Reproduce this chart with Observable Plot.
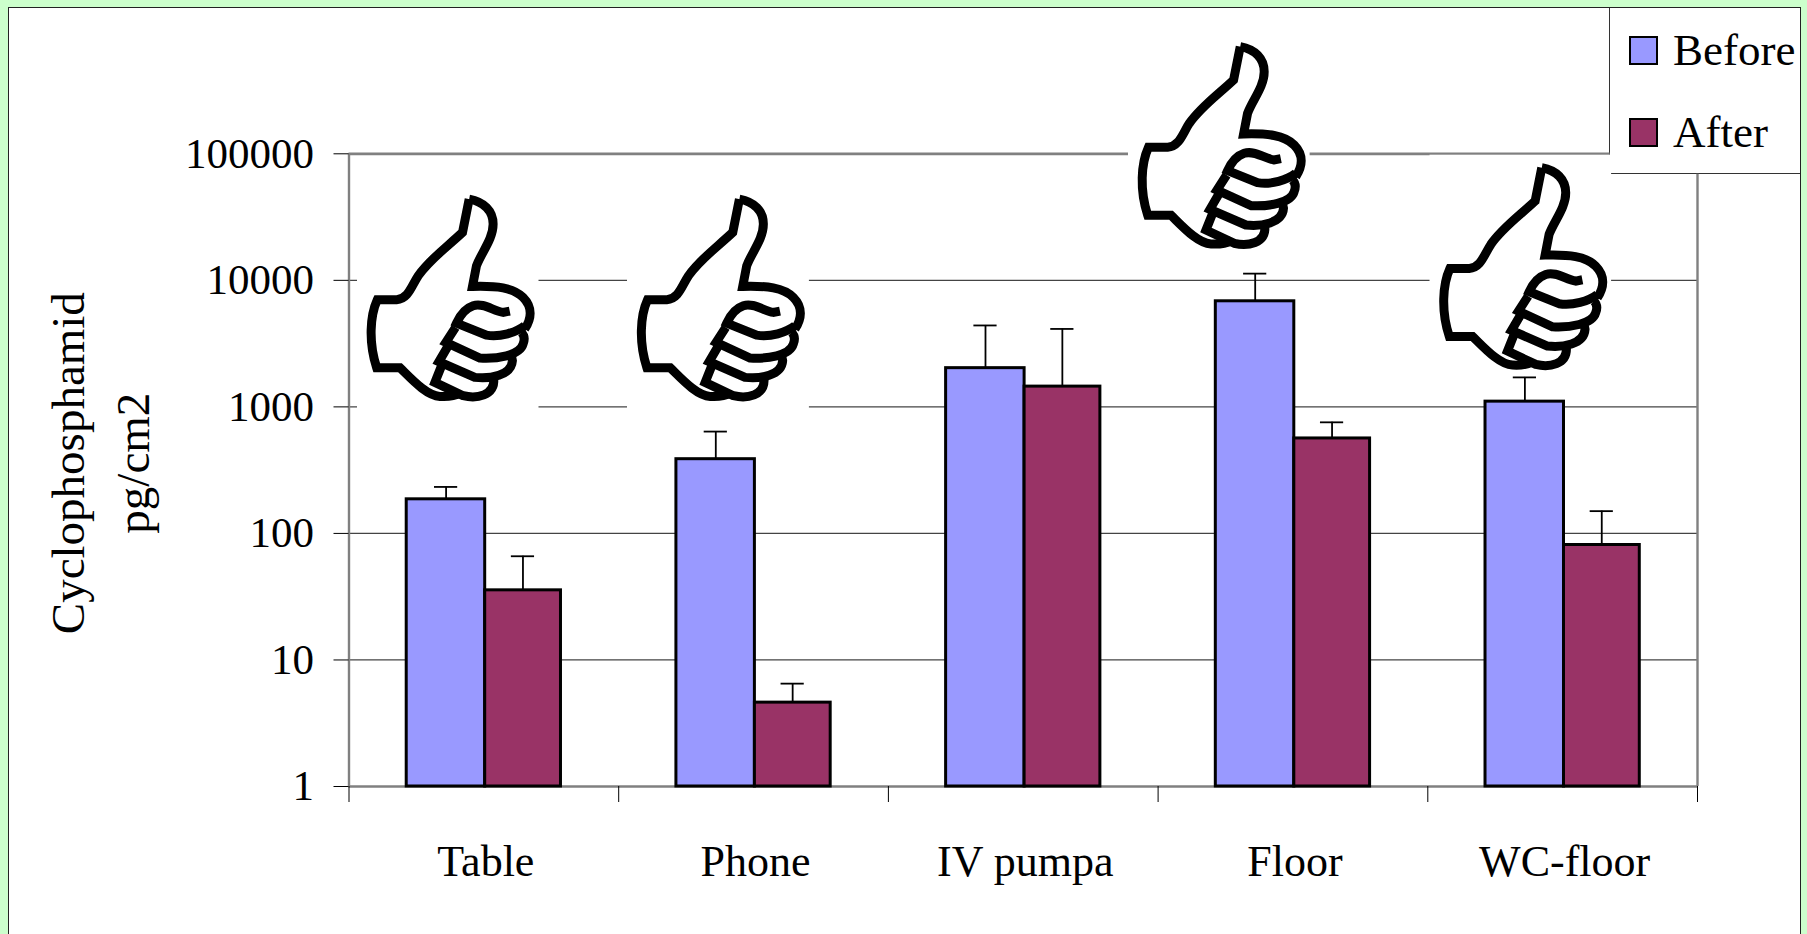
<!DOCTYPE html>
<html>
<head>
<meta charset="utf-8">
<script src="https://cdn.jsdelivr.net/npm/d3@7"></script>
<script src="https://cdn.jsdelivr.net/npm/@observablehq/plot@0.6"></script>
<style>
html,body{margin:0;padding:0;width:1807px;height:934px;overflow:hidden;background:#CCFFCC;font-family:"Liberation Serif",serif;}
#frame{position:absolute;left:8px;top:7px;width:1791px;height:940px;background:#fff;border:1.5px solid #222;}
#legend{position:absolute;left:1609px;top:8px;width:191px;height:166px;color:#000;font-size:45px;}
#legend .edgeL{position:absolute;left:0;top:0;width:1.2px;height:150px;background:#333;}
#legend .edgeB{position:absolute;left:0;top:165px;width:191px;height:1.2px;background:#333;}
#legend .sw{position:absolute;left:20px;width:25px;height:25px;border:2.5px solid #000;}
#legend .lb{position:absolute;left:64px;line-height:50px;white-space:nowrap;}
#chart{position:absolute;left:0;top:0;}
#chart svg{background:transparent;}
</style>
</head>
<body>
<div id="frame"></div>
<div id="legend">
  <div class="edgeL"></div><div class="edgeB"></div>
  <div class="sw" style="top:28px;background:#9999FF"></div><div class="lb" style="top:17px">Before</div>
  <div class="sw" style="top:110px;background:#993366"></div><div class="lb" style="top:99px">After</div>
</div>
<div id="chart"></div>
<script>
const categories = ["Table", "Phone", "IV pumpa", "Floor", "WC-floor"];
const before     = [186, 386, 2023, 6830, 1100];
const after      = [35.5, 4.6, 1446, 563, 81];
const beforeTop  = [233, 638, 4400, 11300, 1710];
const afterTop   = [66, 6.5, 4130, 755, 150];
const yTicks     = [1, 10, 100, 1000, 10000, 100000];
const innerGrid  = [10, 100, 1000, 10000];
const xEdges     = [0, 1, 2, 3, 4, 5];

// thumbs-up pictures: anchored to the chart's scales
const thumbX = [0.366, 1.368, 3.225, 4.343];
const thumbY = [6900, 6900, 110500, 12200];

const capW = 0.043;
const rows = categories.flatMap((c, i) => [
  {i, x1: i + 0.214, x2: i + 0.505, v: before[i], top: beforeTop[i], fill: "#9999FF"},
  {i, x1: i + 0.505, x2: i + 0.786, v: after[i], top: afterTop[i], fill: "#993366"}
]);

const thumbSvg = `<svg xmlns="http://www.w3.org/2000/svg" viewBox="50 50 547 690" preserveAspectRatio="none">
<rect x="50" y="50" width="547" height="690" fill="#fff"/>
<g fill="none" stroke="#000" stroke-width="27" stroke-linejoin="miter">
<path d="M388 90C432 98 460 125 460 165C460 210 425 250 410 290L398 352C470 350 520 355 550 385C580 415 575 450 555 480"/>
<path d="M388 90L368 190C320 235 270 270 235 320C215 350 205 390 170 392L112 392C90 440 85 520 110 596L180 596C215 630 260 680 300 682C330 684 350 678 362 672"/>
<path d="M510 426L490 430C460 425 430 400 400 410C375 418 360 440 350 462L440 498C480 505 530 490 555 470"/>
<path d="M347 475L318 520L420 567C470 570 540 560 550 525C558 505 550 495 545 490"/>
<path d="M325 530L297 578L405 625C450 630 515 620 518 575L515 560"/>
<path d="M305 590L285 640L370 680C410 690 465 680 462 630"/>
</g></svg>`;
const thumbSrc = "data:image/svg+xml," + encodeURIComponent(thumbSvg);

const fontFamily = '"Liberation Serif", serif';
const chart = Plot.plot({
  width: 1807, height: 934,
  marginLeft: 348.5, marginRight: 110, marginTop: 153.3, marginBottom: 148,
  style: {background: "transparent", fontFamily, color: "#000"},
  x: {domain: [0, 5], axis: null},
  y: {type: "log", domain: [1, 100000], axis: null},
  marks: [
    Plot.ruleY(innerGrid, {stroke: "#444", strokeWidth: 1.2}),
    Plot.ruleY([100000], {x1: 0, x2: 4.676, stroke: "#808080", strokeWidth: 2.8}),
    Plot.ruleX([5], {y1: 1, y2: 68800, stroke: "#808080", strokeWidth: 2.4}),
    Plot.ruleX([0], {stroke: "#808080", strokeWidth: 2.4}),
    Plot.ruleY([1], {stroke: "#808080", strokeWidth: 2.4}),
    Plot.image(thumbX.map((x, k) => ({x, y: thumbY[k]})), {
      x: "x", y: "y", src: thumbSrc, width: 182, height: 230, preserveAspectRatio: "none"
    }),
    Plot.ruleX(rows, {x: d => d.i + (d.fill === "#9999FF" ? 0.36 : 0.645), y1: "v", y2: "top", stroke: "#000", strokeWidth: 1.8}),
    Plot.ruleY(rows, {y: "top", x1: d => d.i + (d.fill === "#9999FF" ? 0.36 : 0.645) - capW, x2: d => d.i + (d.fill === "#9999FF" ? 0.36 : 0.645) + capW, stroke: "#000", strokeWidth: 1.8}),
    Plot.rect(rows, {x1: "x1", x2: "x2", y1: 1, y2: "v", fill: "fill", stroke: "#000", strokeWidth: 3}),
    Plot.axisY(yTicks, {anchor: "left", tickSize: 15, tickPadding: 20, tickFormat: d => String(d), fontSize: 43, label: null, stroke: "#000"}),
    Plot.axisX(xEdges, {anchor: "bottom", tickSize: 16, tickFormat: () => "", label: null, stroke: "#000"}),
    Plot.axisX(categories.map((c, i) => i + 0.5), {anchor: "bottom", tickSize: 0, tickPadding: 58, dx: 2, tickFormat: d => categories[d - 0.5], fontSize: 44, label: null}),
    Plot.text(["Cyclophosphamid\npg/cm2"], {frameAnchor: "left", dx: -253.5, dy: -7, rotate: -90, fontSize: 47, lineHeight: 1.4, textAnchor: "middle", fill: "#000"})
  ]
});
document.getElementById("chart").appendChild(chart);
</script>
</body>
</html>
